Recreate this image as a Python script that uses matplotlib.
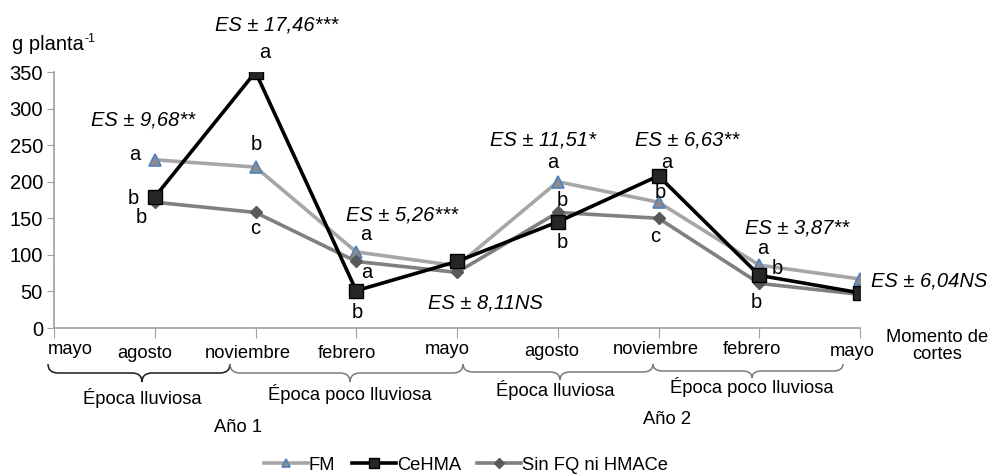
import matplotlib
matplotlib.use("Agg")
import matplotlib.pyplot as plt
from matplotlib.path import Path
from matplotlib.patches import PathPatch
import numpy as np

plt.rcParams['font.family'] = ['Liberation Sans', 'DejaVu Sans']

# data
meses = ["mayo", "agosto", "noviembre", "febrero", "mayo",
         "agosto", "noviembre", "febrero", "mayo"]
x_cortes = [1, 2, 3, 4, 5, 6, 7, 8]
fm = [230, 220, 104, 85, 200, 172, 86, 67]
cehma = [179, 350, 51, 91, 145, 208, 72, 48]
sin_fq = [172, 158, 91, 76, 158, 150, 61, 46]

es_labels = ["ES ± 9,68**", "ES ± 17,46***", "ES ± 5,26***", "ES ± 8,11NS",
             "ES ± 11,51*", "ES ± 6,63**", "ES ± 3,87**", "ES ± 6,04NS"]
es_pos = [(143, 120), (277, 25), (402, 215), (485, 303),
          (543, 140), (687, 140), (797, 228), (929, 281)]
letras = [("a", 135, 155), ("b", 133, 198), ("b", 141, 218),
          ("a", 265, 52), ("b", 256, 145), ("c", 255, 228),
          ("a", 366, 235), ("a", 367, 273), ("b", 357, 312),
          ("a", 553, 163), ("b", 562, 200), ("b", 562, 242),
          ("a", 667, 162), ("b", 660, 193), ("c", 655, 237),
          ("a", 763, 248), ("b", 777, 268), ("b", 756, 302)]
mes_dx = [0.16, -0.1, -0.08, -0.09, -0.1, -0.06, -0.03, -0.07, -0.08]
mes_y = [349, 353, 353, 354, 350, 352, 350, 350, 351]

W, H = 992, 476
fig = plt.figure(figsize=(W / 100, H / 100), dpi=100)
ax = fig.add_axes([54 / W, 1 - 328 / H, (860 - 54) / W, (328 - 72) / H])

ax.plot(x_cortes, fm, color="#a6a6a6", lw=2.6, marker="^", ms=8,
        mfc="#8c8c8c", mec="#4f81bd", mew=1.2, label="FM", zorder=3)
ax.plot(x_cortes, cehma, color="black", lw=2.6, marker="s", ms=9.5,
        mfc="#262626", mec="black", label="CeHMA", zorder=4)
ax.plot(x_cortes, sin_fq, color="#808080", lw=2.6, marker="D", ms=6.5,
        mfc="#595959", mec="#595959", label="Sin FQ ni HMACe", zorder=3)

ax.set_xlim(0, 8)
ax.set_ylim(0, 350)
ax.set_yticks(np.arange(0, 351, 50))
ax.set_xticks(range(9))
ax.set_xticklabels([])
ax.tick_params(axis="y", labelsize=14.5, length=5, color="#a0a0a0", pad=3)
ax.tick_params(axis="x", length=7, color="#a0a0a0")
for s in ["top", "right"]:
    ax.spines[s].set_visible(False)
for s in ["left", "bottom"]:
    ax.spines[s].set_color("#a0a0a0")
    ax.spines[s].set_linewidth(1.2)


def fx(px):
    return px / W


def fy(py):
    return 1 - py / H


fig.text(fx(12), fy(45), "g planta", fontsize=14.5, va="center")
fig.text(fx(84.5), fy(39), "-1", fontsize=9, va="center")

for lab, (px, py) in zip(es_labels, es_pos):
    fig.text(fx(px), fy(py), lab, fontsize=14.5, style="italic",
             ha="center", va="center")
for t, px, py in letras:
    fig.text(fx(px), fy(py), t, fontsize=14.5, ha="center", va="center")

for i, m in enumerate(meses):
    xd = ax.transData.transform((i + mes_dx[i], 0))[0]
    fig.text(fx(xd), fy(mes_y[i]), m, fontsize=13.2, ha="center", va="center")

fig.text(fx(937), fy(346), "Momento de\ncortes", fontsize=13.2,
         ha="center", va="center", linespacing=1.0)


def brace(x0, x1, xm, ytop, ybot, color):
    ymid = (ytop + ybot) / 2
    r = 10
    verts = [(x0, ytop), (x0, ymid), (x0 + r, ymid), (x0 + r, ymid),
             (xm - r, ymid), (xm, ymid), (xm, ybot),
             (xm, ymid), (xm + r, ymid), (xm + r, ymid),
             (x1 - r, ymid), (x1, ymid), (x1, ytop)]
    codes = [Path.MOVETO, Path.CURVE3, Path.CURVE3, Path.LINETO,
             Path.LINETO, Path.CURVE3, Path.CURVE3,
             Path.CURVE3, Path.CURVE3, Path.LINETO,
             Path.LINETO, Path.CURVE3, Path.CURVE3]
    verts = [(fx(a), fy(b)) for a, b in verts]
    fig.add_artist(PathPatch(Path(verts, codes), fc="none", ec=color,
                             lw=1.1, transform=fig.transFigure))


brace(48, 230, 142, 364, 382, "#1a1a1a")
brace(230, 463, 350, 364, 382, "#7a7a7a")
brace(463, 653, 560, 364, 380, "#7a7a7a")
brace(653, 843, 752, 364, 378, "#7a7a7a")

fig.text(fx(142), fy(398), "Época lluviosa", fontsize=13.2, ha="center", va="center")
fig.text(fx(350), fy(394), "Época poco lluviosa", fontsize=13.2, ha="center", va="center")
fig.text(fx(555), fy(390), "Época lluviosa", fontsize=13.2, ha="center", va="center")
fig.text(fx(752), fy(387), "Época poco lluviosa", fontsize=13.2, ha="center", va="center")
fig.text(fx(238), fy(428), "Año 1", fontsize=13.2, ha="center", va="center")
fig.text(fx(667), fy(420), "Año 2", fontsize=13.2, ha="center", va="center")

fig.legend(loc="center", bbox_to_anchor=(fx(466), fy(465)), ncol=3,
           frameon=False, fontsize=13.2, handlelength=2.4, handletextpad=0.05,
           columnspacing=0.9, markerscale=0.8)

fig.savefig("out.png", dpi=100)
